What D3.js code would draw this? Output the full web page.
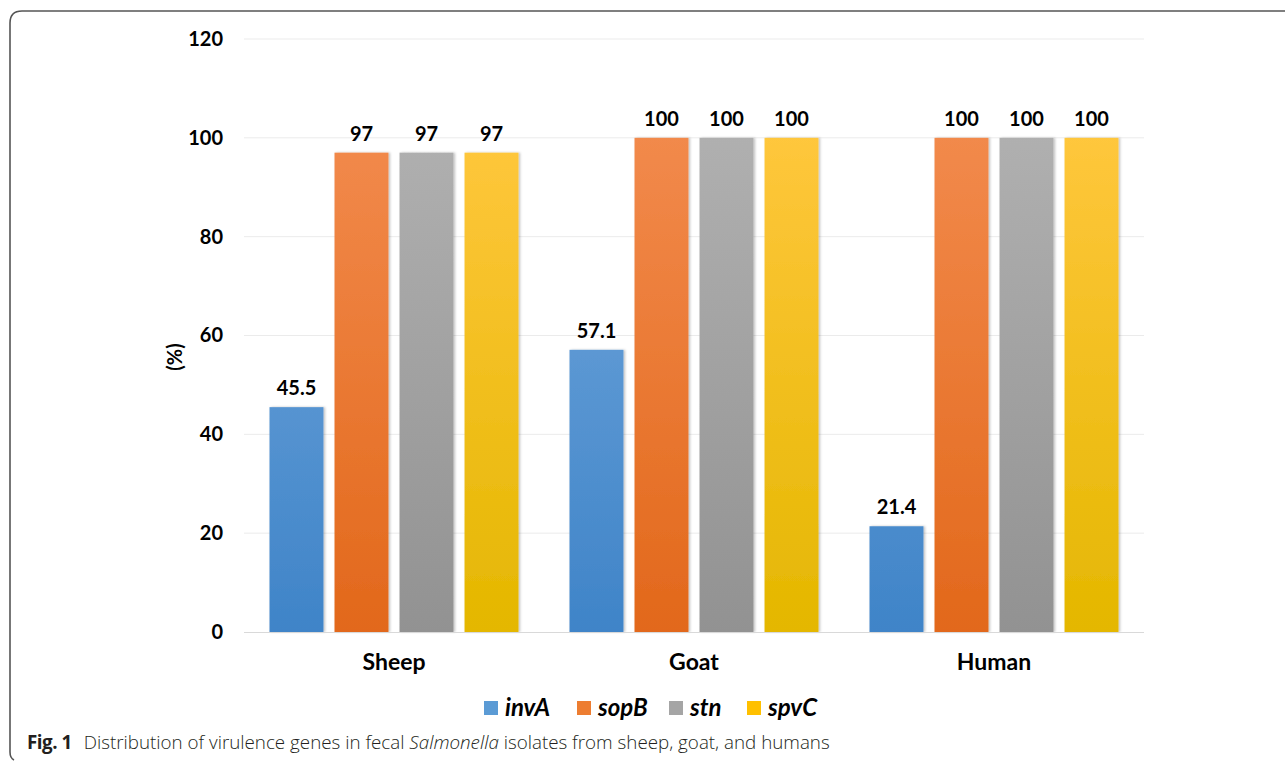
<!DOCTYPE html>
<html>
<head>
<meta charset="utf-8">
<script src="https://cdn.jsdelivr.net/npm/d3@7"></script>
<style>
  html, body { margin: 0; padding: 0; background: #fff; }
  svg { display: block; }
</style>
</head>
<body>
<svg id="chart" width="1285" height="761"></svg>
<script>
const categories = ["Sheep", "Goat", "Human"];
const genes = ["invA", "sopB", "stn", "spvC"];
const invA = [45.5, 57.1, 21.4];
const sopB = [97, 100, 100];
const stn  = [97, 100, 100];
const spvC = [97, 100, 100];
const yTicks = [0, 20, 40, 60, 80, 100, 120];
const seriesValues = { invA, sopB, stn, spvC };
const colorsTop = { invA: "#72a7dc", sopB: "#f28a4c", stn: "#b0b0b0", spvC: "#ffc73d" };
const colorsBot = { invA: "#3f84c8", sopB: "#e2681b", stn: "#929292", spvC: "#e4b700" };
const legendColors = { invA: "#5b9bd5", sopB: "#ed7d31", stn: "#a5a5a5", spvC: "#ffc000" };

const svg = d3.select("#chart");
const font = "Lato, 'Open Sans', sans-serif";

// frame
svg.append("path")
  .attr("d", "M 1285 11 L 22 11 Q 10 11 10 23 L 10 752 Q 10 758 14 760")
  .attr("fill", "none").attr("stroke", "#555").attr("stroke-width", 1.6);

const plot = { left: 244, right: 1144, top: 39, bottom: 632 };
const y = d3.scaleLinear().domain([0, 120]).range([plot.bottom, plot.top]);
const x0 = d3.scaleBand().domain(categories).range([plot.left, plot.right])
  .paddingInner(0.17).paddingOuter(0.085);
const x1 = d3.scaleBand().domain(genes).range([0, x0.bandwidth()]).paddingInner(0.17);

const defs = svg.append("defs");
genes.forEach(g => {
  const lg = defs.append("linearGradient").attr("id", "grad-" + g)
    .attr("x1", 0).attr("x2", 0)
    .attr("gradientUnits", "userSpaceOnUse")
    .attr("y1", plot.top + 90).attr("y2", plot.bottom);
  lg.append("stop").attr("offset", "0%").attr("stop-color", colorsTop[g]);
  lg.append("stop").attr("offset", "100%").attr("stop-color", colorsBot[g]);
});
const filt = defs.append("filter").attr("id", "shadow").attr("x", "-20%").attr("y", "-5%").attr("width", "140%").attr("height", "110%");
filt.append("feDropShadow").attr("dx", 1.5).attr("dy", 0).attr("stdDeviation", 1.2).attr("flood-color", "#000").attr("flood-opacity", 0.25);

// gridlines
svg.append("g").selectAll("line").data(yTicks.filter(t => t > 0)).join("line")
  .attr("x1", plot.left).attr("x2", plot.right)
  .attr("y1", d => y(d)).attr("y2", d => y(d))
  .attr("stroke", "#ebebeb").attr("stroke-width", 1);

// y axis labels
const yAxis = d3.axisLeft(y).tickValues(yTicks).tickSize(0).tickPadding(21);
const ya = svg.append("g").attr("transform", `translate(${plot.left},0)`).call(yAxis);
ya.select(".domain").remove();
ya.selectAll("text").attr("font-family", font).attr("font-weight", "bold")
  .attr("font-size", 20).attr("fill", "#000");

// bars
const groups = svg.append("g").selectAll("g").data(categories).join("g")
  .attr("transform", d => `translate(${x0(d)},0)`);
groups.selectAll("rect").data((c, i) => genes.map(g => ({ g, v: seriesValues[g][i] }))).join("rect")
  .attr("x", d => x1(d.g)).attr("width", x1.bandwidth())
  .attr("y", d => y(d.v)).attr("height", d => y(0) - y(d.v))
  .attr("fill", d => `url(#grad-${d.g})`)
  .attr("filter", "url(#shadow)");
groups.selectAll("text").data((c, i) => genes.map(g => ({ g, v: seriesValues[g][i] }))).join("text")
  .attr("x", d => x1(d.g) + x1.bandwidth() / 2)
  .attr("y", d => y(d.v) - 12)
  .attr("text-anchor", "middle")
  .attr("font-family", font).attr("font-weight", "bold").attr("font-size", 20).attr("fill", "#000")
  .text(d => d.v);

// x axis line
svg.append("line").attr("x1", plot.left).attr("x2", plot.right)
  .attr("y1", y(0) + 0.5).attr("y2", y(0) + 0.5).attr("stroke", "#d9d9d9").attr("stroke-width", 1.2);

// x axis labels
const xAxis = d3.axisBottom(x0).tickSize(0).tickPadding(22);
const xa = svg.append("g").attr("transform", `translate(0,${plot.bottom})`).call(xAxis);
xa.select(".domain").remove();
xa.selectAll("text").attr("font-family", font).attr("font-weight", "bold")
  .attr("font-size", 23).attr("fill", "#000");

// y axis title
svg.append("text").attr("transform", "translate(182,357) rotate(-90)")
  .attr("text-anchor", "middle").attr("font-family", font).attr("font-weight", "bold")
  .attr("font-size", 20).text("(%)");

// legend
const legendX = [484, 577, 669, 747];
const lg = svg.append("g");
genes.forEach((g, i) => {
  lg.append("rect").attr("x", legendX[i]).attr("y", 701).attr("width", 14).attr("height", 14)
    .attr("fill", legendColors[g]);
  lg.append("text").attr("x", legendX[i] + 21).attr("y", 716)
    .attr("font-family", font).attr("font-weight", "bold").attr("font-style", "italic")
    .attr("font-size", 24).text(g);
});

// caption
const cap = svg.append("text").attr("x", 27).attr("y", 749)
  .attr("font-family", "'Open Sans', 'Noto Sans', sans-serif").attr("font-size", 18.8).attr("fill", "#231f20");
cap.append("tspan").attr("font-weight", "bold").attr("letter-spacing", -0.5).text("Fig. 1");
cap.append("tspan").attr("dx", 12).attr("font-weight", 300).text("Distribution of virulence genes in fecal ");
cap.append("tspan").attr("font-style", "italic").attr("font-weight", 300).text("Salmonella");
cap.append("tspan").attr("font-weight", 300).text(" isolates from sheep, goat, and humans");
</script>
</body>
</html>
